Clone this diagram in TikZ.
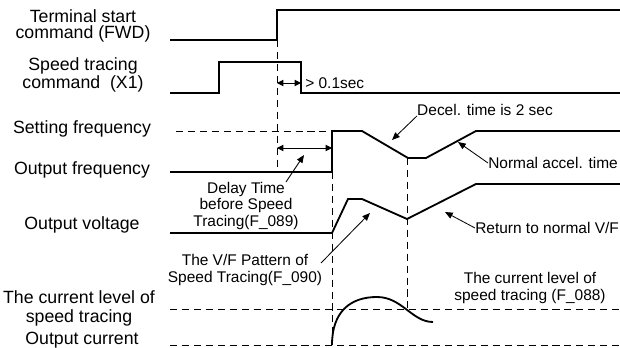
\documentclass[tikz,border=0pt]{standalone}
\usepackage{fontspec}
\setmainfont{Liberation Sans}
\usetikzlibrary{arrows.meta}

\begin{document}
\begin{tikzpicture}[
  x=0.025cm, y=-0.025cm,
  sig/.style={line width=1.3pt, line join=miter},
  guide/.style={line width=0.6pt, dash pattern=on 5pt off 3.5pt},
  lbl/.style={font=\fontsize{12.6}{11.6}\selectfont, align=center, inner sep=0pt},
  note/.style={font=\fontsize{11}{11.5}\selectfont, align=center, inner sep=0pt},
  ptr/.style={line width=0.6pt, -{Triangle[length=5.5pt,width=4.5pt]}},
  twoway/.style={line width=0.6pt,
                 {Triangle[length=4.5pt,width=4.5pt]}-{Triangle[length=4.5pt,width=4.5pt]}}]

  \useasboundingbox (0,0) rectangle (620,348);

  % ---- signal names ----------------------------------------------------
  \node[lbl] (fwd)  at (83,26)  {Terminal start\\command (FWD)};
  \node[lbl] (xone) at (83,75)  {Speed tracing\\command\ \ (X1)};
  \node[lbl] (fset) at (82,129) {Setting frequency};
  \node[lbl] (fout) at (82,170) {Output frequency};
  \node[lbl] (vout) at (82,225) {Output voltage};
  \node[lbl, font=\fontsize{12.6}{13.5}\selectfont] (ilev) at (79,308)
    {The current level of\\speed tracing};
  \node[lbl] (iout) at (82,340) {Output current};

  % ---- waveforms ---------------------------------------------------------
  \draw[sig] (170,40) -- (277,40) -- (277,10) -- (620,10);
  \draw[sig] (170,93) -- (219,93) -- (219,62) -- (301,62) -- (301,93) -- (620,93);
  \draw[sig] (170,172) -- (332,172) -- (332,131) -- (362,131) -- (408,158)
    -- (426,158) -- (476,131) -- (620,131);
  \draw[sig] (170,233) -- (332,233) -- (348,199) -- (362,199) -- (407,219)
    -- (476,184) -- (620,184);
  \draw[sig] (332,345) .. controls (332,312) and (350,297) .. (377,297)
    .. controls (402,297) and (412,322) .. (433,322);

  % ---- guides ------------------------------------------------------------
  \draw[guide] (277,40) -- (277,172);
  \draw[guide] (176,131) -- (332,131);
  \draw[guide] (332,172) -- (332,345);
  \draw[guide] (407,158) -- (407,309);
  \draw[guide] (170,309) -- (620,309);
  \draw[guide] (170,345) -- (620,345);

  % ---- timing spans ------------------------------------------------------
  \coordinate (t0) at (277,83);
  \coordinate (t1) at (301,83);
  \draw[twoway] (t0) -- (t1);
  \node[note, anchor=west] (tmin) at (305,83) {> 0.1sec};

  \coordinate (d0) at (277,148);
  \coordinate (d1) at (332,148);
  \draw[twoway] (d0) -- (d1);

  % ---- annotations -------------------------------------------------------
  \node[note] (delay) at (246,206) {Delay Time\\before Speed\\Tracing(F\_089)};
  \coordinate (delayfoot) at (286,182);
  \coordinate (delaytip) at (304,155);
  \draw[ptr] (delayfoot) -- (delaytip);

  \node[note] (decel) at (485,110) {Decel. time is 2 sec};
  \coordinate (deceltip) at (392,140);
  \draw[ptr] (decel.south west) -- (deceltip);

  \node[note, anchor=west] (accel) at (488,163) {Normal accel. time};
  \coordinate (acceltip) at (458,142);
  \draw[ptr] (accel.west) -- (acceltip);

  \node[note, anchor=west] (back) at (475,228) {Return to normal V/F};
  \coordinate (backtip) at (445,212);
  \draw[ptr] (back.west) -- (backtip);

  \node[note] (vf) at (245,270) {The V/F Pattern of\\Speed Tracing(F\_090)};
  \coordinate (vffoot) at (321,263);
  \coordinate (vftip) at (370,213);
  \draw[ptr] (vffoot) -- (vftip);

  \node[note] (flev) at (530,288) {The current level of\\speed tracing (F\_088)};
\end{tikzpicture}
\end{document}
